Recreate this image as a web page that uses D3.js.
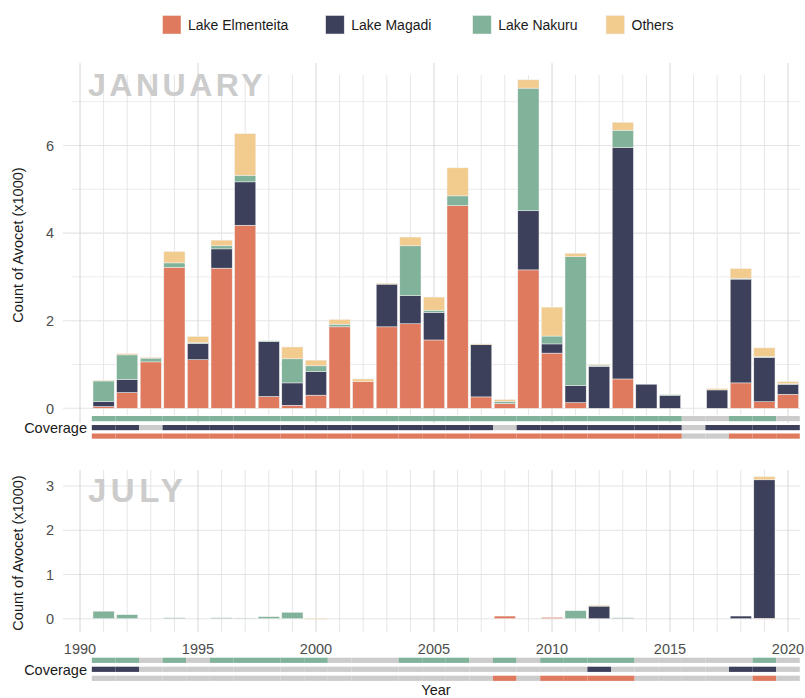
<!DOCTYPE html>
<html><head><meta charset="utf-8">
<script src="https://cdn.jsdelivr.net/npm/d3@7"></script>
<style>body{margin:0;background:#fff}svg{display:block;font-family:"Liberation Sans",Arial,sans-serif}</style>
</head><body><svg id="c" width="805" height="698"></svg>
<script>
const years = [1991,1992,1993,1994,1995,1996,1997,1998,1999,2000,2001,2002,2003,2004,2005,2006,2007,2008,2009,2010,2011,2012,2013,2014,2015,2016,2017,2018,2019,2020];
const lakes = ["Lake Elmenteita","Lake Magadi","Lake Nakuru","Others"];
const colors = ["#E07A5F","#3D405B","#81B29A","#F2CC8F"];

// January counts (x1000)
const janElm = [0.04,0.36,1.06,3.22,1.11,3.20,4.18,0.27,0.07,0.30,1.86,0.61,1.86,1.93,1.56,4.63,0.26,0.11,3.16,1.26,0.13,0.00,0.67,0.00,0.00,0,0.00,0.58,0.15,0.32];
const janMag = [0.11,0.30,0.00,0.00,0.37,0.44,0.99,1.25,0.51,0.54,0.00,0.00,0.98,0.64,0.63,0.00,1.20,0.00,1.35,0.21,0.39,0.96,5.28,0.55,0.30,0,0.42,2.37,1.01,0.23];
const janNak = [0.48,0.56,0.09,0.10,0.02,0.07,0.15,0.02,0.55,0.13,0.06,0.00,0.00,1.14,0.05,0.22,0.00,0.05,2.80,0.18,2.94,0.03,0.40,0.00,0.01,0,0.00,0.02,0.02,0.01];
const janOth = [0.01,0.03,0.01,0.26,0.14,0.13,0.95,0.00,0.27,0.13,0.11,0.06,0.01,0.20,0.30,0.64,0.01,0.04,0.19,0.66,0.08,0.01,0.18,0.00,0.00,0,0.03,0.22,0.20,0.05];

// July counts (x1000)
const julElm = [0,0,0,0,0,0,0,0,0,0,0,0,0,0,0,0,0,0.06,0,0.03,0,0,0,0,0,0,0,0,0.01,0];
const julMag = [0,0,0,0,0,0,0,0,0,0,0,0,0,0,0,0,0,0,0,0,0,0.29,0,0,0,0,0,0.06,3.13,0];
const julNak = [0.17,0.09,0,0.02,0,0.02,0.015,0.045,0.145,0,0,0,0,0,0,0,0,0,0,0,0.18,0,0.02,0,0,0,0,0,0,0];
const julOth = [0,0,0,0,0,0,0,0,0,0.005,0,0,0,0,0,0,0,0,0,0,0,0.01,0,0,0,0,0,0,0.07,0];

// Coverage (1 = surveyed), rows: Nakuru, Magadi, Elmenteita
const janCovNak = [1,1,1,1,1,1,1,1,1,1,1,1,1,1,1,1,1,1,1,1,1,1,1,1,1,0,0,1,1,0];
const janCovMag = [1,1,0,1,1,1,1,1,1,1,1,1,1,1,1,1,1,0,1,1,1,1,1,1,1,0,1,1,1,1];
const janCovElm = [1,1,1,1,1,1,1,1,1,1,1,1,1,1,1,1,1,1,1,1,1,1,1,1,1,0,0,1,1,1];
const julCovNak = [1,1,0,1,0,1,1,1,1,1,0,0,0,1,1,1,0,1,0,1,1,1,1,0,0,0,0,0,1,0];
const julCovMag = [1,1,0,0,0,0,0,0,0,0,0,0,0,0,0,0,0,0,0,0,0,1,0,0,0,0,0,1,1,0];
const julCovElm = [0,0,0,0,0,0,0,0,0,0,0,0,0,0,0,0,0,1,0,1,1,1,1,0,0,0,0,0,1,0];

const xTicks = [1990,1995,2000,2005,2010,2015,2020];

const svg = d3.select("#c");
const x = d3.scaleLinear().domain([1990,2020]).range([80,788]);
const bw = 21.2;

function panel(cfg){
  const g = svg.append("g");
  const y = d3.scaleLinear().domain([0,cfg.ymax]).range([cfg.y0,cfg.y1]);
  cfg.minorY.forEach(v=>g.append("line").attr("x1",72).attr("x2",800).attr("y1",y(v)).attr("y2",y(v)).attr("stroke","#ececec").attr("stroke-width",1));
  cfg.majorY.forEach(v=>g.append("line").attr("x1",63).attr("x2",800).attr("y1",y(v)).attr("y2",y(v)).attr("stroke","#e4e4e4").attr("stroke-width",1.1));
  d3.range(1990,2021).forEach(yr=>{
    const maj = yr%5===0;
    g.append("line").attr("x1",x(yr)).attr("x2",x(yr))
      .attr("y1",maj?cfg.vTopMaj:cfg.vTop).attr("y2",maj?cfg.vBotMaj:cfg.vBot)
      .attr("stroke",maj?"#d6d6d6":"#e6e6e6").attr("stroke-width",1);
  });
  g.append("text").attr("x",88).attr("y",cfg.titleY).text(cfg.title)
    .attr("font-size",cfg.titleSize).attr("font-weight","bold").attr("letter-spacing",cfg.titleLs).attr("fill","#cccccc");
  const table = years.map((yr,i)=>({year:yr,"Lake Elmenteita":cfg.data[0][i],"Lake Magadi":cfg.data[1][i],"Lake Nakuru":cfg.data[2][i],"Others":cfg.data[3][i]}));
  const series = d3.stack().keys(lakes)(table);
  series.forEach((s,k)=>{
    g.append("g").selectAll("rect").data(s.filter(d=>d[1]-d[0]>0)).join("rect")
      .attr("x",d=>x(d.data.year)-bw/2).attr("width",bw)
      .attr("y",d=>y(d[1])).attr("height",d=>Math.max(0.8,y(d[0])-y(d[1])))
      .attr("fill",colors[k]).attr("stroke","#f2f2f2").attr("stroke-width",0.5);
  });
  cfg.majorY.forEach(v=>g.append("text").attr("x",54).attr("y",y(v)).attr("dy","0.36em").attr("text-anchor","end")
    .attr("font-size",14.5).attr("fill","#4d4d4d").text(d3.format("d")(v)));
  g.append("text").attr("transform",`translate(23,${cfg.titleMid}) rotate(-90)`).attr("text-anchor","middle")
    .attr("font-size",14.5).attr("fill","#1a1a1a").text("Count of Avocet (x1000)");
  const covColors = [colors[2],colors[1],colors[0]];
  cfg.cov.forEach((row,r)=>{
    g.append("g").selectAll("rect").data(years.map((yr,i)=>({yr,on:row[i]}))).join("rect")
      .attr("x",d=>x(d.yr-0.5)).attr("width",x(1991)-x(1990))
      .attr("y",cfg.covY[r]).attr("height",5.2)
      .attr("fill",d=>d.on?covColors[r]:"#cccccc");
  });
  g.append("text").attr("x",87).attr("y",cfg.covY[1]+2.6).attr("dy","0.36em").attr("text-anchor","end")
    .attr("font-size",14.5).attr("fill","#1a1a1a").text("Coverage");
  return y;
}

panel({ymax:7,y0:408.3,y1:101.7,majorY:[0,2,4,6],minorY:[1,3,5,7],
  vTop:75,vBot:415,vTopMaj:63,vBotMaj:423,title:"JANUARY",titleY:96,titleSize:32,titleLs:3.5,titleMid:245,
  data:[janElm,janMag,janNak,janOth],cov:[janCovNak,janCovMag,janCovElm],covY:[416,425,433.5]});

panel({ymax:3,y0:618.7,y1:486,majorY:[0,1,2,3],minorY:[],
  vTop:470,vBot:632,vTopMaj:470,vBotMaj:632,title:"JULY",titleY:501.5,titleSize:33,titleLs:4.5,titleMid:553,
  data:[julElm,julMag,julNak,julOth],cov:[julCovNak,julCovMag,julCovElm],covY:[657.7,666.7,675.7]});

xTicks.forEach(t=>svg.append("text").attr("x",x(t)).attr("y",649).attr("dy","0.36em").attr("text-anchor","middle")
  .attr("font-size",14.5).attr("fill","#4d4d4d").text(t));
svg.append("text").attr("x",436).attr("y",695).attr("text-anchor","middle").attr("font-size",14.5).attr("fill","#1a1a1a").text("Year");

const legX = [162.5,325.7,472.7,606];
lakes.forEach((l,i)=>{
  svg.append("rect").attr("x",legX[i]).attr("y",15.5).attr("width",18.5).attr("height",18.5).attr("fill",colors[i]).attr("stroke","#f0f0f0").attr("stroke-width",0.5);
  svg.append("text").attr("x",legX[i]+25.5).attr("y",25).attr("dy","0.36em").attr("font-size",14).attr("fill","#1a1a1a").text(l);
});
</script></body></html>
